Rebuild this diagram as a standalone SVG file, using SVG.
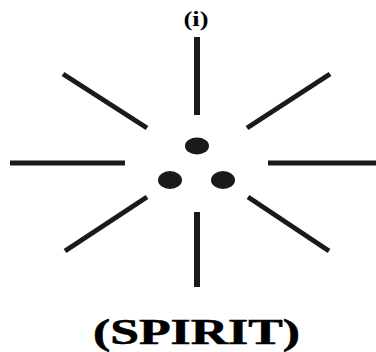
<svg xmlns="http://www.w3.org/2000/svg" width="376" height="352" viewBox="0 0 376 352">
<style>
.ray{stroke:#1a1a1a;stroke-width:5;stroke-linecap:butt;fill:none}
.dot{fill:#1a1a1a}
.t{font-family:"Liberation Serif","Times New Roman",serif;font-weight:bold;fill:#000;text-anchor:middle}
</style>
<rect width="376" height="352" fill="#fff"/>
<text class="t" x="196" y="26" font-size="21" textLength="25" lengthAdjust="spacingAndGlyphs">(i)</text>
<g id="rays">
<line class="ray" x1="197" y1="37" x2="197" y2="115" style="stroke-width:6"/>
<line class="ray" x1="63" y1="74" x2="147" y2="128"/>
<line class="ray" x1="330" y1="74" x2="247" y2="128"/>
<line class="ray" x1="10" y1="163" x2="125" y2="163"/>
<line class="ray" x1="268" y1="163" x2="376" y2="163"/>
<line class="ray" x1="147" y1="197" x2="65" y2="251"/>
<line class="ray" x1="248" y1="197" x2="329" y2="251"/>
<line class="ray" x1="197" y1="212" x2="197" y2="287" style="stroke-width:6"/>
</g>
<g id="dot-top"><ellipse class="dot" cx="197" cy="146" rx="12" ry="8.5"/></g>
<g id="dot-left"><ellipse class="dot" cx="170" cy="180" rx="12" ry="9"/></g>
<g id="dot-right"><ellipse class="dot" cx="223" cy="180" rx="12" ry="9"/></g>
<text class="t" x="196.5" y="344" font-size="36" textLength="207" lengthAdjust="spacingAndGlyphs" stroke="#000" stroke-width="0.6">(SPIRIT)</text>
</svg>
